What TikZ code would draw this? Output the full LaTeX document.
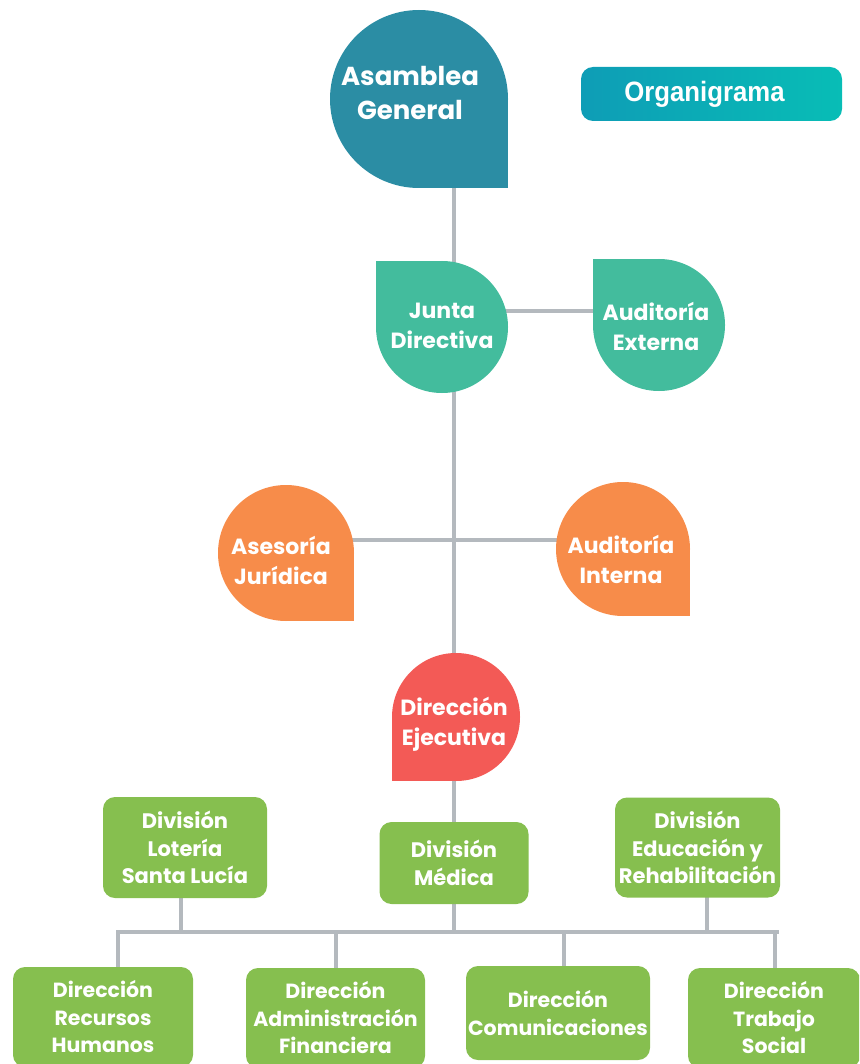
\documentclass[tikz,border=0pt]{standalone}
\usepackage{fontspec}
\setmainfont{Poppins}
\newfontfamily\condf{Liberation Sans}[FakeStretch=0.92, BoldFeatures={FakeStretch=0.92}]
\usetikzlibrary{backgrounds}
\definecolor{cAsam}{HTML}{2B8DA4}
\definecolor{cJunta}{HTML}{43BC9D}
\definecolor{cOrange}{HTML}{F78C4A}
\definecolor{cRed}{HTML}{F35A56}
\definecolor{cGreen}{HTML}{86BF4F}
\definecolor{cLine}{HTML}{B4B9BE}
\definecolor{orgL}{HTML}{0E9DB6}
\definecolor{orgR}{HTML}{08BDB6}
\tikzset{
  conn/.style={draw=cLine, line width=4pt},
  dropshape/.style={circle, inner sep=0pt, minimum size=#1},
  dtext/.style={text=white, align=center, font=\bfseries\fontsize{22}{30}\selectfont},
  bigtext/.style={text=white, align=center, font=\bfseries\fontsize{26}{34}\selectfont},
  gbox/.style={fill=cGreen, rounded corners=12pt, text=white, align=center, inner sep=0pt,
    font=\bfseries\fontsize{21}{27.5}\selectfont},
  gboxb/.style={gbox, font=\bfseries\fontsize{20.5}{27.5}\selectfont},
}
\begin{document}
\begin{tikzpicture}[x=1pt,y=-1pt]
\useasboundingbox (0,0) rectangle (859,1064);
\clip (0,0) rectangle (859,1064);

% title
\node[rounded corners=12pt, left color=orgL, right color=orgR, minimum width=261pt,
  minimum height=54pt, inner sep=0pt, text=white,
  font=\condf\bfseries\fontsize{28}{30}\selectfont] (org) at (711.5,94) {Organigrama\hspace*{14pt}};

% Asamblea General (sharp bottom-right)
\fill[cAsam] (419,99) rectangle (508,188);
\node[dropshape=178pt, fill=cAsam] (ag) at (419,99) {};
\node[bigtext] (agt) at (410,93) {Asamblea\\General};

% Junta Directiva (sharp top-left)
\fill[cJunta] (442,327) rectangle (376,261);
\node[dropshape=132pt, fill=cJunta] (jd) at (442,327) {};
\node[dtext] (jdt) at (442,326) {Junta\\Directiva};

% Auditoria Externa (sharp top-left)
\fill[cJunta] (659,325) rectangle (593,259);
\node[dropshape=132pt, fill=cJunta] (ae) at (659,325) {};
\node[dtext] (aet) at (656,326) {Auditoría\\Externa};

% Asesoria Juridica (sharp bottom-right)
\fill[cOrange] (286,553) rectangle (354,621);
\node[dropshape=136pt, fill=cOrange] (as) at (286,553) {};
\node[dtext] (ast) at (281,560) {Asesoría\\Jurídica};

% Auditoria Interna (sharp bottom-right)
\fill[cOrange] (623,549) rectangle (690,616);
\node[dropshape=134pt, fill=cOrange] (ai) at (623,549) {};
\node[dtext] (ait) at (621,559) {Auditoría\\Interna};

% Direccion Ejecutiva (sharp bottom-left)
\fill[cRed] (456,717) rectangle (392,781);
\node[dropshape=128pt, fill=cRed] (ed) at (456,717) {};
\node[dtext] (edt) at (454,724) {Dirección\\Ejecutiva};

% divisions
\node[gbox, minimum width=164pt, minimum height=101pt] (lot) at (185,847.5) {División\\Lotería\\Santa Lucía};
\node[gbox, minimum width=149pt, minimum height=82pt] (med) at (454,863) {División\\Médica};
\node[gbox, minimum width=165pt, minimum height=100pt] (edu) at (697.5,847.5) {División\\Educación y\\Rehabilitación};

% direcciones (bottom row)
\node[gboxb, minimum width=180pt, minimum height=100pt] (rh) at (103,1017) {Dirección\\Recursos\\Humanos};
\node[gboxb, minimum width=179pt, minimum height=100pt] (adm) at (335.5,1018) {Dirección\\Administración\\Financiera};
\node[gboxb, minimum width=184pt, minimum height=94pt] (com) at (558,1013) {Dirección\\Comunicaciones};
\node[gboxb, minimum width=172pt, minimum height=100pt] (ts) at (774,1018) {Dirección\\Trabajo\\Social};

% connectors
\coordinate (jy) at (0,311);
\coordinate (oy) at (0,540);
\coordinate (busL) at (118,932);
\coordinate (busR) at (777,932);
\coordinate (lotx) at (181,0);
\coordinate (edux) at (707,0);
\coordinate (comx) at (564,0);
\coordinate (admx) at (336,0);
\coordinate (tsx) at (775,0);
\begin{scope}[on background layer]
  \draw[conn] (ag.center -| med.center) -- (med.center);
  \draw[conn] (jd.center |- jy) -- (ae.center |- jy);
  \draw[conn] (as.center |- oy) -- (ai.center |- oy);
  \draw[conn] (med.center) -- (med.center |- busL);
  \draw[conn] (lot.center -| lotx) -- (busL -| lotx);
  \draw[conn] (edu.center -| edux) -- (busL -| edux);
  \draw[conn, line cap=rect] (busL) -- (busR);
  \draw[conn] (busL) -- (rh.center -| busL);
  \draw[conn] (busL -| admx) -- (adm.center -| admx);
  \draw[conn] (busL -| comx) -- (com.center -| comx);
  \draw[conn] (busL -| tsx) -- (ts.center -| tsx);
\end{scope}
\end{tikzpicture}
\end{document}
